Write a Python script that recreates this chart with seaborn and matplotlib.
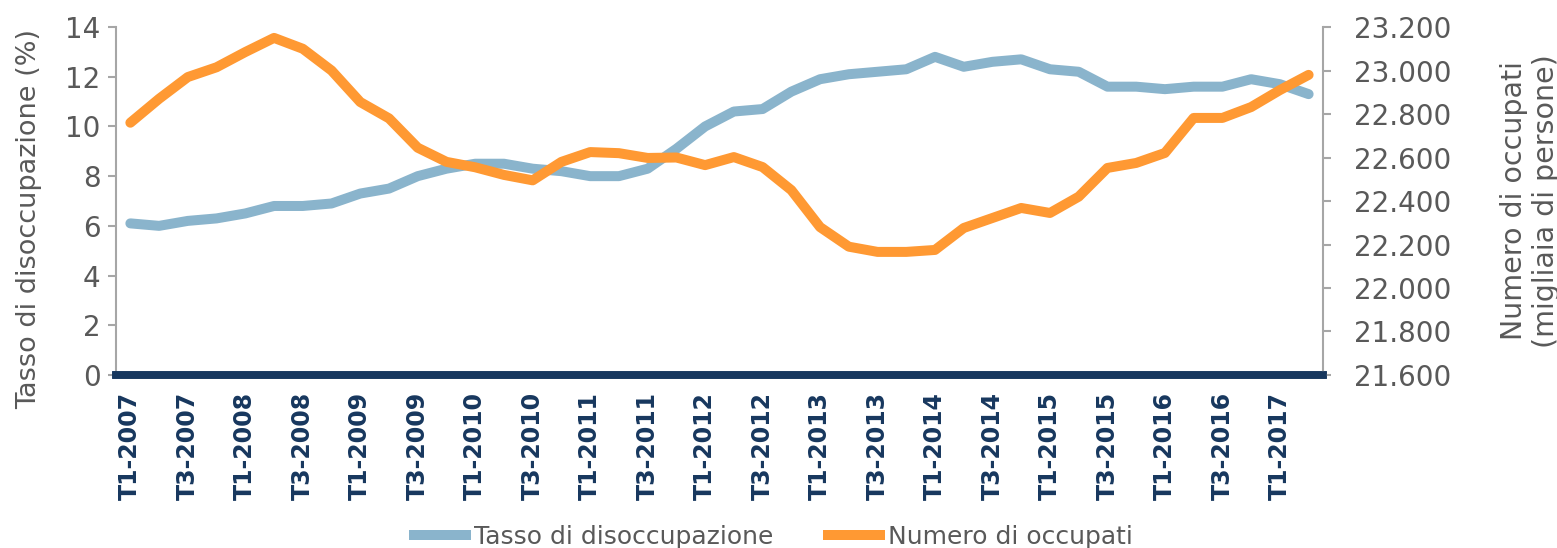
import pandas as pd
import matplotlib
matplotlib.use("Agg")
import matplotlib.pyplot as plt
import seaborn as sns
from matplotlib.ticker import FuncFormatter, MultipleLocator

# quarterly data, T1-2007 .. T2-2017
quarters = [f"T{q}-{y}" for y in range(2007, 2018) for q in (1, 2, 3, 4)][:42]

tasso = [6.1, 6.0, 6.2, 6.3, 6.5, 6.8, 6.8, 6.9, 7.3, 7.5,
         8.0, 8.3, 8.5, 8.5, 8.3, 8.2, 8.0, 8.0, 8.3, 9.1,
         10.0, 10.6, 10.7, 11.4, 11.9, 12.1, 12.2, 12.3, 12.8, 12.4,
         12.6, 12.7, 12.3, 12.2, 11.6, 11.6, 11.5, 11.6, 11.6, 11.9,
         11.7, 11.3]

occupati = [22760, 22870, 22970, 23015, 23085, 23150, 23100, 23000, 22855, 22780,
            22645, 22580, 22555, 22520, 22495, 22580, 22625, 22620, 22598, 22600,
            22565, 22602, 22556, 22450, 22280, 22190, 22166, 22166, 22175, 22276,
            22322, 22368, 22345, 22420, 22552, 22575, 22621, 22782, 22782, 22832,
            22910, 22980]

df = pd.DataFrame({"idx": range(len(quarters)), "trimestre": quarters,
                   "tasso": tasso, "occupati": occupati})

sns.set_style("white")
plt.rcParams["font.family"] = ["DejaVu Sans"]

grey = "#595959"
navy = "#17375E"
blue = "#8AB4CC"
orange = "#FF9933"

fig = plt.figure(figsize=(15.57, 5.48), dpi=100)
ax = fig.add_axes([0.0745, 0.3157, 0.7752, 0.635])
ax2 = ax.twinx()

sns.lineplot(data=df, x="idx", y="tasso", ax=ax, color=blue, linewidth=7.2,
             label="Tasso di disoccupazione", legend=False)
sns.lineplot(data=df, x="idx", y="occupati", ax=ax2, color=orange, linewidth=7.2,
             label="Numero di occupati", legend=False)

ax.set_xlim(-0.5, len(quarters) - 0.5)
ax.set_ylim(0, 14)
ax.yaxis.set_major_locator(MultipleLocator(2))
ax2.set_ylim(21600, 23200)
ax2.yaxis.set_major_locator(MultipleLocator(200))
ax2.yaxis.set_major_formatter(FuncFormatter(lambda v, p: f"{v/1000:.3f}"))

ax.set_xticks(df["idx"][::2])
ax.set_xticklabels(df["trimestre"][::2], rotation=90, fontsize=17,
                   fontweight="bold", color=navy)
ax.tick_params(axis="x", length=0, pad=12)
ax.tick_params(axis="y", length=6, width=1.5, color="#A6A6A6", labelsize=20,
               labelcolor=grey, pad=5, left=True)
ax2.tick_params(axis="y", length=6, width=1.5, color="#A6A6A6", labelsize=20,
                labelcolor=grey, pad=16, right=True)

for a in (ax, ax2):
    a.spines["top"].set_visible(False)
    a.spines["left"].set_color("#A6A6A6")
    a.spines["right"].set_color("#A6A6A6")
    a.spines["left"].set_linewidth(1.5)
    a.spines["right"].set_linewidth(1.5)
    a.spines["bottom"].set_color(navy)
    a.spines["bottom"].set_linewidth(5.5)
    a.grid(False)
ax.spines["right"].set_visible(False)
ax2.spines["left"].set_visible(False)

ax.set_xlabel("")
ax.set_ylabel("Tasso di disoccupazione (%)", fontsize=19.5, color=grey)
ax.yaxis.set_label_coords(-0.0614, 0.448)
ax2.set_ylabel("Numero di occupati\n(migliaia di persone)", fontsize=20.5,
               color=grey, labelpad=35, multialignment="center")

h1, l1 = ax.get_legend_handles_labels()
h2, l2 = ax2.get_legend_handles_labels()
leg = fig.legend(h1 + h2, l1 + l2, loc="center", bbox_to_anchor=(0.495, 0.02),
                 ncol=2, frameon=False, fontsize=18, labelcolor=grey,
                 handlelength=2.5, handletextpad=0.1, columnspacing=2.0)
for line in leg.get_lines():
    line.set_solid_capstyle("butt")

fig.savefig("out.png", dpi=100)
plt.close(fig)
